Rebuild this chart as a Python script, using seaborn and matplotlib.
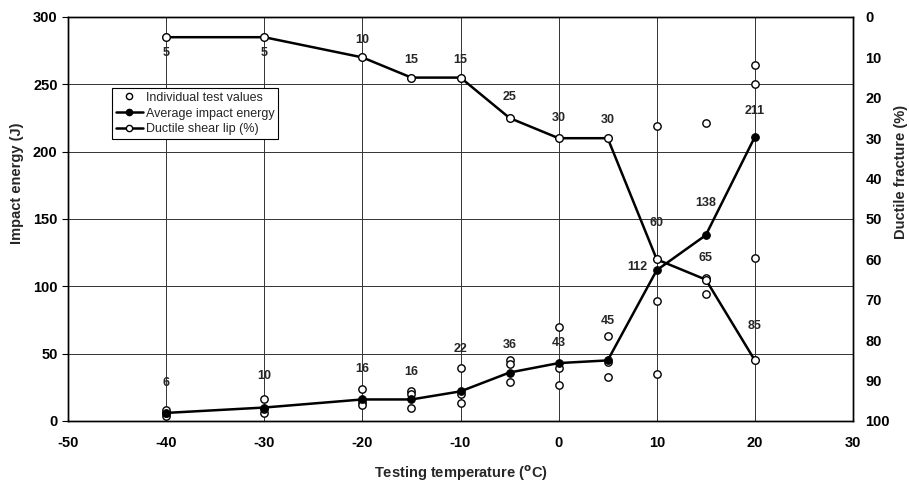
import matplotlib
matplotlib.use("Agg")
import matplotlib.pyplot as plt
from matplotlib.lines import Line2D
import numpy as np
import pandas as pd
import seaborn as sns

# ---- data ----
temps = [-40, -30, -20, -15, -10, -5, 0, 5, 10, 15, 20]
avg_energy = [6, 10, 16, 16, 22, 36, 43, 45, 112, 138, 211]
ductile = [5, 5, 10, 15, 15, 25, 30, 30, 60, 65, 85]
individual = [
    [4, 6, 8],
    [16, 6, 9],
    [24, 14, 12],
    [22, 20, 10],
    [39, 20, 13],
    [45, 42, 29],
    [70, 39, 27],
    [63, 44, 33],
    [219, 89, 35],
    [221, 106, 94],
    [264, 250, 121],
]
x_ticks = [-50, -40, -30, -20, -10, 0, 10, 20, 30]
y_ticks = [0, 50, 100, 150, 200, 250, 300]
y2_ticks = [0, 10, 20, 30, 40, 50, 60, 70, 80, 90, 100]

# label offsets (pixels) - styling only
avg_off = [(0, 30), (0, 32), (0, 30), (0, 27), (0, 42), (0, 28), (0, 20),
           (0, 39), (-19, 3), (0, 32), (0, 26)]
duc_off = [(0, -16), (0, -16), (0, 17), (0, 18), (0, 18), (0, 21), (0, 20),
           (0, 18), (0, 36), (0, 22), (0, 34)]

df_avg = pd.DataFrame({"T": temps, "E": avg_energy})
df_duc = pd.DataFrame({"T": temps, "D": ductile})
df_ind = pd.DataFrame({
    "T": [t for t, vals in zip(temps, individual) for _ in vals],
    "E": [v for vals in individual for v in vals],
})

sns.set_style("white")
plt.rcParams["font.family"] = ["Liberation Sans", "DejaVu Sans"]
plt.rcParams["axes.unicode_minus"] = False

fig = plt.figure(figsize=(9.09, 4.83), dpi=100)
ax = fig.add_axes([68 / 909, 1 - 421 / 483, (853 - 68) / 909, (421 - 17) / 483])

ax.set_xlim(-50, 30)
ax.set_ylim(0, 300)
ax.set_xticks(x_ticks)
ax.set_yticks(y_ticks)
ax.grid(True, color="#333333", linewidth=0.7)
ax.set_axisbelow(True)

sns.scatterplot(data=df_ind, x="T", y="E", ax=ax, marker="o", s=28,
                facecolor="white", edgecolor="black", linewidth=1.0,
                zorder=3, legend=False)
sns.lineplot(data=df_avg, x="T", y="E", ax=ax, color="black", linewidth=1.8,
             marker="o", markersize=5.5, markerfacecolor="black",
             markeredgecolor="black", zorder=4, legend=False)

for t, e, (dx, dy) in zip(temps, avg_energy, avg_off):
    ax.annotate(str(e), (t, e), xytext=(dx, dy), textcoords="offset pixels",
                ha="center", va="center", fontsize=9, fontweight="bold")

ax2 = ax.twinx()
ax2.set_ylim(100, 0)
ax2.set_yticks(y2_ticks)
sns.lineplot(data=df_duc, x="T", y="D", ax=ax2, color="black", linewidth=1.8,
             marker="o", markersize=5.5, markerfacecolor="white",
             markeredgecolor="black", markeredgewidth=1.0, zorder=4,
             legend=False)
for t, d, (dx, dy) in zip(temps, ductile, duc_off):
    ax2.annotate(str(d), (t, d), xytext=(dx, dy), textcoords="offset pixels",
                 ha="center", va="center", fontsize=9, fontweight="bold")

for a in (ax, ax2):
    for sp in a.spines.values():
        sp.set_visible(True)
        sp.set_color("black")
        sp.set_linewidth(1.0)
    a.tick_params(direction="out", length=4, width=0.8, colors="black",
                  labelsize=10.5)
    for lab in a.get_xticklabels() + a.get_yticklabels():
        lab.set_fontweight("bold")
ax2.tick_params(axis="y", length=0, pad=9)
ax.tick_params(axis="x", pad=7)

ax.set_xlabel(r"Testing temperature ($\mathbf{^{o}}$C)", fontsize=10.5,
              fontweight="bold")
ax.xaxis.set_label_coords(0.5, -0.106)
ax.set_ylabel("Impact energy (J)", fontsize=10.5, fontweight="bold")
ax.yaxis.set_label_coords(-0.056, 0.589)
ax2.set_ylabel("Ductile fracture (%)", fontsize=10.5, fontweight="bold")
ax2.yaxis.set_label_coords(1.052, 0.616)

handles = [
    Line2D([], [], linestyle="none", marker="o", markersize=4.5,
           markerfacecolor="white", markeredgecolor="black"),
    Line2D([], [], color="black", linewidth=1.8, marker="o", markersize=4.5,
           markerfacecolor="black", markeredgecolor="black"),
    Line2D([], [], color="black", linewidth=1.8, marker="o", markersize=4.5,
           markerfacecolor="white", markeredgecolor="black"),
]
labels = ["Individual test values", "Average impact energy",
          "Ductile shear lip (%)"]
leg = ax2.legend(handles, labels, loc="upper left",
                 bbox_to_anchor=(0.056, 0.824), fontsize=9, frameon=True,
                 fancybox=False, framealpha=1, edgecolor="black",
                 handlelength=2.2, handletextpad=0.2, borderpad=0.3,
                 labelspacing=0.3, borderaxespad=0)
leg.get_frame().set_linewidth(0.8)

fig.savefig("out.png", dpi=100)
